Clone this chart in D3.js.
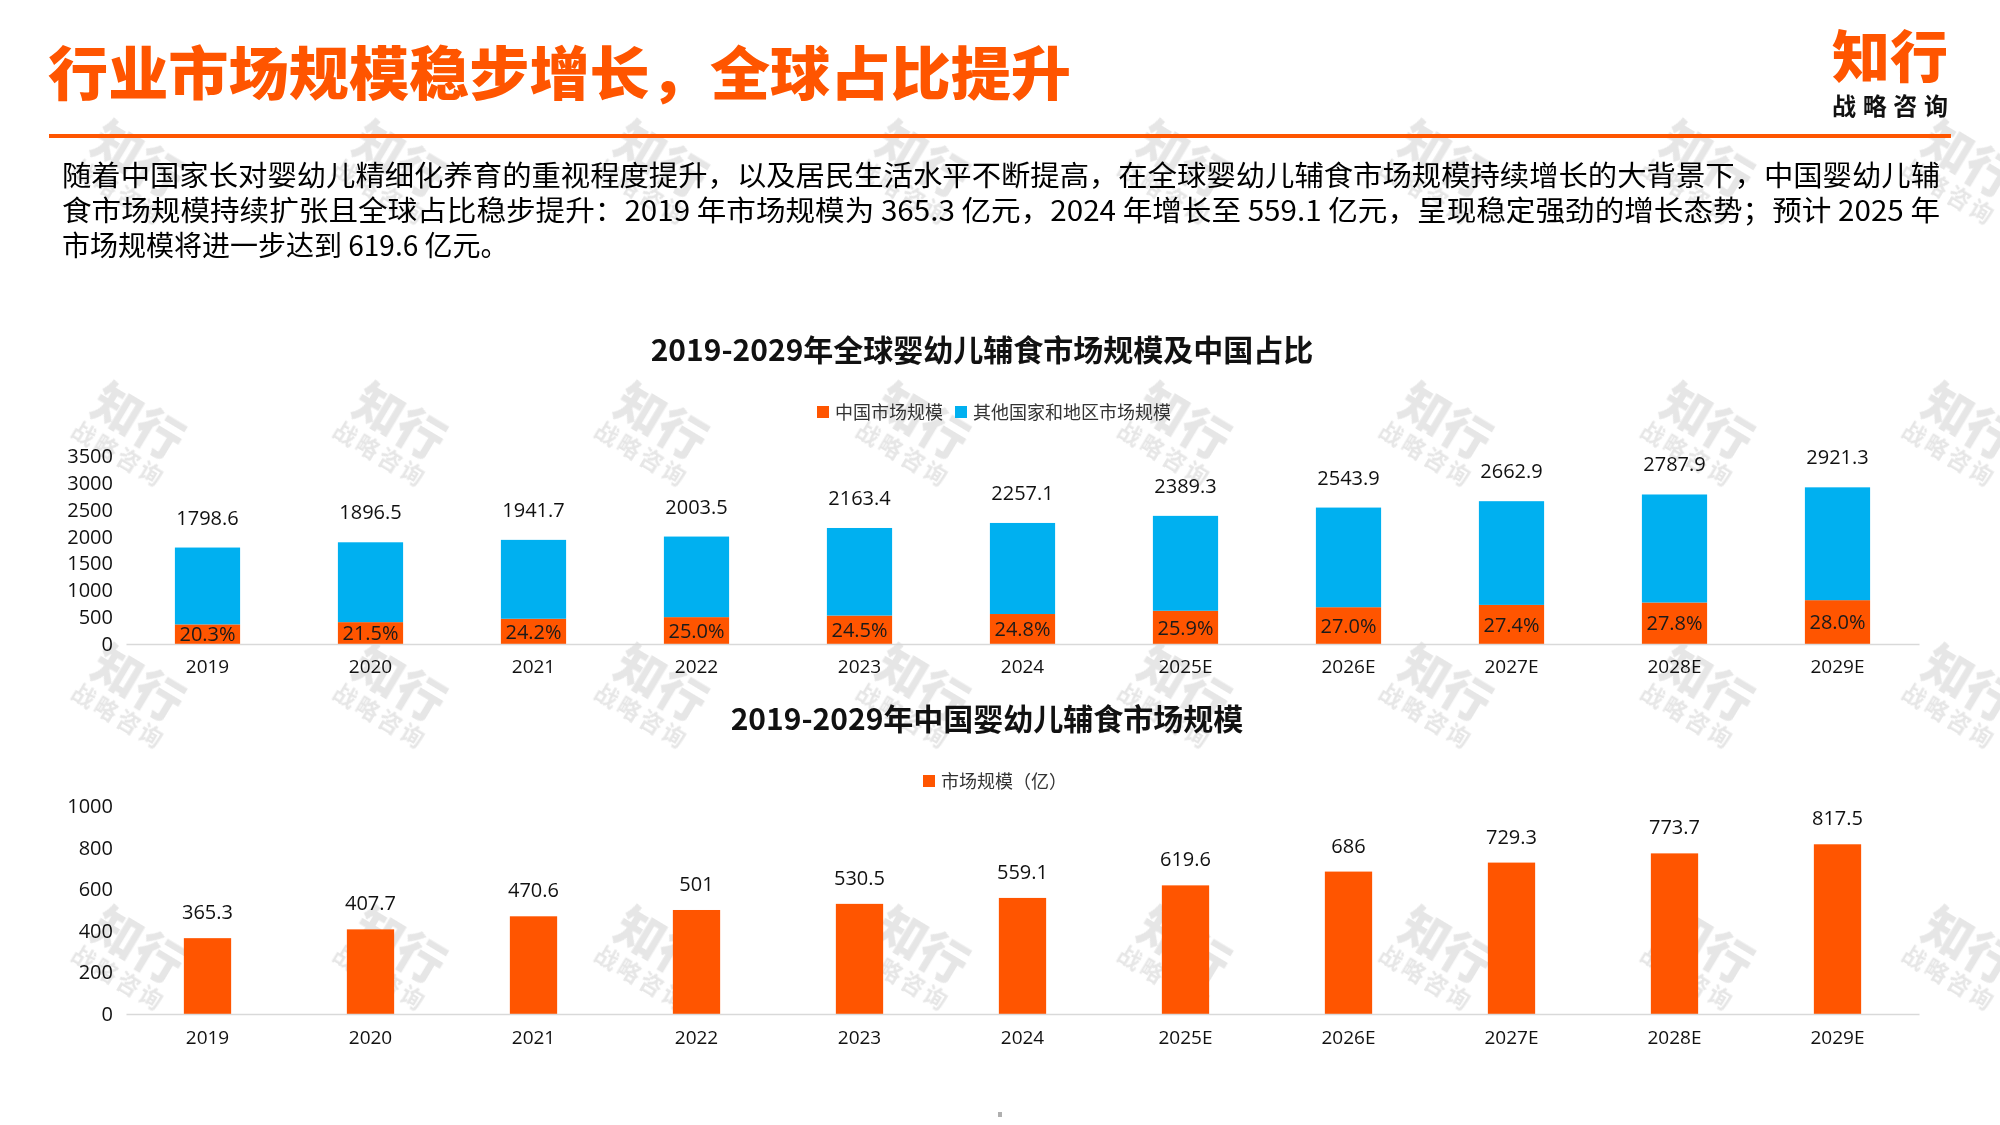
<!DOCTYPE html>
<html>
<head>
<meta charset="utf-8">
<script src="https://cdn.jsdelivr.net/npm/d3@7"></script>
<style>
  html, body { margin: 0; padding: 0; background: #ffffff; }
  svg { display: block; }
  text { font-family: "Open Sans", "Noto Sans CJK SC", sans-serif; }
  .cjk { font-family: "Noto Sans CJK SC", sans-serif; }
</style>
</head>
<body>
<svg id="chart" width="2000" height="1125"></svg>
<script>
// ---------------- data ----------------
const years = ["2019","2020","2021","2022","2023","2024","2025E","2026E","2027E","2028E","2029E"];
const globalTotal = [1798.6,1896.5,1941.7,2003.5,2163.4,2257.1,2389.3,2543.9,2662.9,2787.9,2921.3];
const chinaMarket = [365.3,407.7,470.6,501,530.5,559.1,619.6,686,729.3,773.7,817.5];
const chinaShare = ["20.3%","21.5%","24.2%","25.0%","24.5%","24.8%","25.9%","27.0%","27.4%","27.8%","28.0%"];
const topTicks = [0,500,1000,1500,2000,2500,3000,3500];
const bottomTicks = [0,200,400,600,800,1000];
const seriesNames = ["中国市场规模","其他国家和地区市场规模"];
const bottomSeriesName = "市场规模（亿）";
const pageTitle = "行业市场规模稳步增长，全球占比提升";
const topChartTitle = "2019-2029年全球婴幼儿辅食市场规模及中国占比";
const bottomChartTitle = "2019-2029年中国婴幼儿辅食市场规模";
const paragraph = [
  "随着中国家长对婴幼儿精细化养育的重视程度提升，以及居民生活水平不断提高，在全球婴幼儿辅食市场规模持续增长的大背景下，中国婴幼儿辅",
  "食市场规模持续扩张且全球占比稳步提升：2019 年市场规模为 365.3 亿元，2024 年增长至 559.1 亿元，呈现稳定强劲的增长态势；预计 2025 年",
  "市场规模将进一步达到 619.6 亿元。"
];

// ---------------- styles ----------------
const ORANGE = "#FF5500";
const BLUE = "#00B0F0";
const AXIS = "#d9d9d9";

const svg = d3.select("#chart");

// ---------------- watermarks ----------------
const wmCols = [138, 399.5, 661, 922.5, 1184, 1445.5, 1707, 1968.5];
const wmRows = [160, 422, 684, 946];
const wm = svg.append("g").attr("fill", "#dcdcdc").attr("opacity", 0.7);
wmRows.forEach(ry => wmCols.forEach(cx => {
  const g = wm.append("g").attr("transform", `translate(${cx},${ry}) rotate(31)`);
  g.append("text").attr("class","cjk").attr("text-anchor","middle").attr("y", 17)
    .attr("font-size", 48).attr("font-weight", 900).text("知行");
  g.append("text").attr("class","cjk").attr("text-anchor","middle").attr("y", 46)
    .attr("font-size", 23).attr("font-weight", 700).attr("letter-spacing", 3).text("战略咨询");
}));

// ---------------- header ----------------
svg.append("text").attr("class","cjk")
  .attr("x", 48).attr("y", 95)
  .attr("font-size", 58).attr("font-weight", 900).attr("fill", ORANGE)
  .attr("textLength", 1023).attr("lengthAdjust", "spacingAndGlyphs")
  .text(pageTitle);

svg.append("rect").attr("x", 49).attr("y", 134).attr("width", 1902).attr("height", 4).attr("fill", ORANGE);

svg.append("text").attr("class","cjk")
  .attr("x", 1832).attr("y", 77)
  .attr("font-size", 56).attr("font-weight", 900).attr("fill", ORANGE)
  .attr("textLength", 116).attr("lengthAdjust", "spacingAndGlyphs")
  .text("知行");
svg.append("text").attr("class","cjk")
  .attr("x", 1832).attr("y", 115)
  .attr("font-size", 24).attr("font-weight", 700).attr("fill", "#111")
  .attr("textLength", 116).attr("lengthAdjust", "spacing")
  .text("战略咨询");

const paraLens = [1878, 1878, null];
paragraph.forEach((line, i) => {
  const t = svg.append("text").attr("class","cjk")
    .attr("x", 62).attr("y", 186 + i * 35.2)
    .attr("font-size", 28).attr("fill", "#000")
    .text(line);
  if (paraLens[i]) t.attr("textLength", paraLens[i]).attr("lengthAdjust", "spacingAndGlyphs");
});

// ---------------- shared x scale ----------------
const xRange = [126, 1919];

// ---------------- top chart ----------------
svg.append("text").attr("x", 982).attr("y", 361)
  .attr("text-anchor","middle").attr("font-size", 30).attr("font-weight", 700).attr("fill", "#111")
  .attr("class","cjk").text(topChartTitle);

// legend
const legTop = svg.append("g");
const legItems = [{x: 823, c: ORANGE, t: seriesNames[0]}, {x: 961, c: BLUE, t: seriesNames[1]}];
legItems.forEach(d => {
  legTop.append("rect").attr("x", d.x - 6).attr("y", 406).attr("width", 12).attr("height", 12).attr("fill", d.c);
  legTop.append("text").attr("class","cjk").attr("x", d.x + 12).attr("y", 419)
    .attr("font-size", 18).attr("fill", "#333").text(d.t);
});

const xTop = d3.scaleBand().domain(years).range(xRange).paddingInner(0.6).paddingOuter(0.3);
const yTop = d3.scaleLinear().domain([0, 3500]).range([644, 456.3]);

const stackData = years.map((y, i) => ({ year: y, china: chinaMarket[i], other: globalTotal[i] - chinaMarket[i] }));
const stacked = d3.stack().keys(["china", "other"])(stackData);
const colors = { china: ORANGE, other: BLUE };

svg.append("g").selectAll("g").data(stacked).join("g")
  .attr("fill", d => colors[d.key])
  .selectAll("rect").data(d => d).join("rect")
  .attr("x", d => xTop(d.data.year))
  .attr("width", xTop.bandwidth())
  .attr("y", d => yTop(d[1]))
  .attr("height", d => yTop(d[0]) - yTop(d[1]));

// y axis
const yAxTop = svg.append("g").attr("transform", `translate(${xRange[0]},0)`)
  .call(d3.axisLeft(yTop).tickValues(topTicks).tickSize(0).tickPadding(13).tickFormat(d3.format("d")));
yAxTop.select(".domain").remove();
yAxTop.selectAll("text").attr("font-size", 20).attr("fill", "#111").attr("font-family", "Open Sans");

// x axis
const xAxTop = svg.append("g").attr("transform", `translate(0,${yTop(0)})`)
  .call(d3.axisBottom(xTop).tickSize(0).tickSizeOuter(0).tickPadding(16));
xAxTop.select(".domain").attr("stroke", AXIS).attr("stroke-width", 1.5);
xAxTop.selectAll("text").attr("font-size", 19).attr("fill", "#111").attr("font-family", "Open Sans");

// total labels
svg.append("g").selectAll("text").data(years).join("text")
  .attr("x", d => xTop(d) + xTop.bandwidth() / 2)
  .attr("y", (d, i) => yTop(globalTotal[i]) - 30)
  .attr("dy", "0.35em").attr("text-anchor", "middle")
  .attr("font-size", 20).attr("fill", "#111")
  .text((d, i) => String(globalTotal[i]));

// share labels
svg.append("g").selectAll("text").data(years).join("text")
  .attr("x", d => xTop(d) + xTop.bandwidth() / 2)
  .attr("y", (d, i) => (yTop(0) + yTop(chinaMarket[i])) / 2)
  .attr("dy", "0.36em").attr("text-anchor", "middle")
  .attr("font-size", 20).attr("fill", "#1a1a1a")
  .text((d, i) => chinaShare[i]);

// ---------------- bottom chart ----------------
svg.append("text").attr("x", 987).attr("y", 730)
  .attr("text-anchor","middle").attr("font-size", 30).attr("font-weight", 700).attr("fill", "#111")
  .attr("class","cjk").text(bottomChartTitle);

svg.append("rect").attr("x", 923).attr("y", 775).attr("width", 12).attr("height", 12).attr("fill", ORANGE);
svg.append("text").attr("class","cjk").attr("x", 941).attr("y", 788)
  .attr("font-size", 18).attr("fill", "#333").text(bottomSeriesName);

const xBot = d3.scaleBand().domain(years).range(xRange).paddingInner(0.71).paddingOuter(0.355);
const yBot = d3.scaleLinear().domain([0, 1000]).range([1014, 806.4]);

svg.append("g").selectAll("rect").data(years).join("rect")
  .attr("x", d => xBot(d))
  .attr("width", xBot.bandwidth())
  .attr("y", (d, i) => yBot(chinaMarket[i]))
  .attr("height", (d, i) => yBot(0) - yBot(chinaMarket[i]))
  .attr("fill", ORANGE);

const yAxBot = svg.append("g").attr("transform", `translate(${xRange[0]},0)`)
  .call(d3.axisLeft(yBot).tickValues(bottomTicks).tickSize(0).tickPadding(13).tickFormat(d3.format("d")));
yAxBot.select(".domain").remove();
yAxBot.selectAll("text").attr("font-size", 20).attr("fill", "#111").attr("font-family", "Open Sans");

const xAxBot = svg.append("g").attr("transform", `translate(0,${yBot(0)})`)
  .call(d3.axisBottom(xBot).tickSize(0).tickSizeOuter(0).tickPadding(17));
xAxBot.select(".domain").attr("stroke", AXIS).attr("stroke-width", 1.5);
xAxBot.selectAll("text").attr("font-size", 19).attr("fill", "#111").attr("font-family", "Open Sans");

svg.append("g").selectAll("text").data(years).join("text")
  .attr("x", d => xBot(d) + xBot.bandwidth() / 2)
  .attr("y", (d, i) => yBot(chinaMarket[i]) - 26)
  .attr("dy", "0.35em").attr("text-anchor", "middle")
  .attr("font-size", 20).attr("fill", "#111")
  .text((d, i) => String(chinaMarket[i]));

// small page marker
svg.append("rect").attr("x", 998).attr("y", 1112).attr("width", 4).attr("height", 5).attr("fill", "#b0b0b0");
</script>
</body>
</html>
